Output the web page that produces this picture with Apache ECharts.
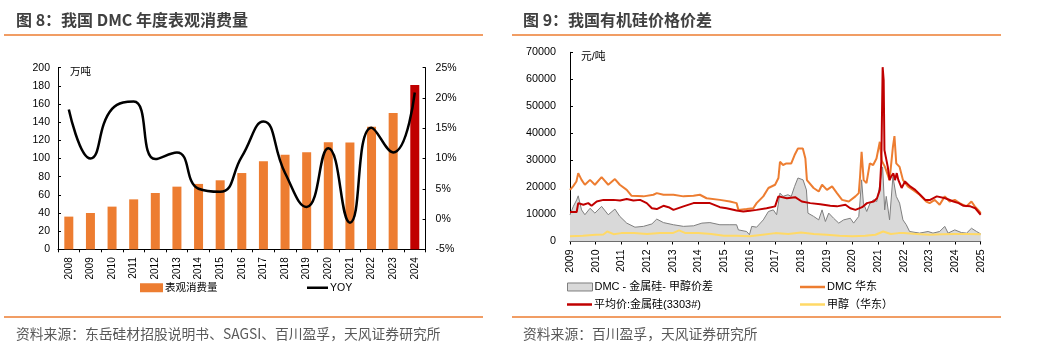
<!DOCTYPE html>
<html><head><meta charset="utf-8">
<script src="https://cdn.jsdelivr.net/npm/echarts@6/dist/echarts.min.js"></script>
<style>html,body{margin:0;padding:0;background:#fff}#c{width:1050px;height:355px}</style>
</head><body><div id="c"></div>
<script>
// ---------- Figure 8 data ----------
const years8 = ['2008','2009','2010','2011','2012','2013','2014','2015','2016','2017','2018','2019','2020','2021','2022','2023','2024'];
const consumption = [36, 40, 47, 55, 62, 69, 72, 76, 84, 97, 104, 107, 118, 117.5, 135, 150, 181];
const yoy = [18.1, 10.0, 18.2, 19.4, 9.9, 11.0, 5.0, 4.5, 10.3, 16.1, 7.6, 2.0, 11.7, -0.6, 15.1, 11.0, 20.9];
const leftTicks = {min: 0, max: 200, interval: 20};
const rightTicks = {min: -5, max: 25, interval: 5};

// ---------- Figure 9 data ([year, yuan/ton]) ----------
const spread = [[2009.00,9900],[2009.13,13000],[2009.26,15400],[2009.32,16900],[2009.45,11700],[2009.58,9900],[2009.78,12300],[2009.97,10500],[2010.23,13000],[2010.49,9900],[2010.75,12000],[2010.94,9300],[2011.21,6800],[2011.53,5300],[2011.86,5600],[2012.19,6500],[2012.38,8300],[2012.64,7000],[2013.03,6200],[2013.42,5600],[2013.81,5800],[2014.14,6800],[2014.45,7000],[2014.84,6200],[2015.23,6200],[2015.49,6200],[2015.56,4300],[2015.88,3700],[2015.99,2500],[2016.08,5600],[2016.27,5300],[2016.53,8000],[2016.73,11100],[2016.92,11700],[2017.05,9900],[2017.18,17900],[2017.30,16700],[2017.49,17300],[2017.62,16700],[2017.75,20400],[2017.88,23500],[2018.08,22800],[2018.21,19100],[2018.27,10500],[2018.49,9300],[2018.69,8000],[2018.82,11700],[2018.95,7400],[2019.08,10500],[2019.27,8600],[2019.47,6800],[2019.66,8000],[2019.92,8600],[2020.05,6800],[2020.25,9300],[2020.30,15000],[2020.36,22800],[2020.43,14200],[2020.56,11100],[2020.69,14200],[2020.82,15400],[2020.95,14800],[2021.08,21600],[2021.18,27600],[2021.26,11700],[2021.32,16700],[2021.45,8000],[2021.58,24000],[2021.71,16700],[2021.84,14200],[2021.97,8000],[2022.10,6200],[2022.23,3700],[2022.62,3100],[2022.95,3700],[2023.14,3100],[2023.40,3700],[2023.60,5600],[2023.73,3100],[2023.99,4300],[2024.25,3300],[2024.45,3100],[2024.64,4900],[2024.84,3700],[2025.00,2800]];
const dmcEast = [[2009.00,19100],[2009.12,20400],[2009.25,22200],[2009.32,25300],[2009.45,22800],[2009.58,21000],[2009.78,22800],[2009.97,21000],[2010.23,23800],[2010.49,21000],[2010.75,23100],[2010.94,21000],[2011.21,19100],[2011.40,16900],[2011.86,16700],[2012.25,17300],[2012.38,17900],[2012.64,17300],[2013.03,17300],[2013.42,16700],[2013.81,16900],[2014.06,17300],[2014.32,16000],[2014.84,15400],[2015.23,14800],[2015.49,14200],[2015.56,11700],[2015.88,12000],[2016.14,12300],[2016.27,14200],[2016.53,16700],[2016.73,19800],[2016.99,21000],[2017.12,23500],[2017.18,29500],[2017.30,28300],[2017.43,28900],[2017.62,28900],[2017.75,32000],[2017.88,34400],[2018.07,34400],[2018.17,30700],[2018.23,22700],[2018.30,22800],[2018.49,19800],[2018.69,18500],[2018.82,21000],[2019.01,19100],[2019.21,20400],[2019.40,17900],[2019.60,15400],[2019.86,14800],[2020.12,16700],[2020.25,17900],[2020.30,24000],[2020.36,33200],[2020.44,22700],[2020.55,21600],[2020.68,28900],[2020.81,28300],[2020.94,30700],[2021.07,36900],[2021.14,30000],[2021.27,27600],[2021.45,22700],[2021.58,35000],[2021.64,39000],[2021.71,28900],[2021.84,27600],[2021.97,22800],[2022.16,20400],[2022.36,19100],[2022.62,17300],[2022.88,14800],[2023.01,14200],[2023.21,15400],[2023.40,13600],[2023.60,16700],[2023.79,14800],[2023.99,15400],[2024.18,14200],[2024.44,13000],[2024.64,14800],[2024.77,13000],[2024.90,11700],[2025.00,10500]];
const silicon = [[2009.00,10900],[2009.26,10900],[2009.32,14200],[2009.52,13600],[2009.71,14200],[2009.84,13200],[2010.04,14800],[2010.30,15400],[2010.69,15400],[2010.95,15200],[2011.21,15700],[2011.47,15200],[2011.73,15400],[2011.99,14200],[2012.19,12300],[2012.38,12000],[2012.64,13200],[2012.84,12700],[2013.03,11700],[2013.42,13000],[2013.81,14200],[2014.14,14200],[2014.45,14200],[2014.84,12700],[2015.10,12300],[2015.49,11500],[2015.75,11100],[2016.01,11400],[2016.27,11700],[2016.66,12300],[2016.99,13000],[2017.12,16700],[2017.45,16000],[2017.77,16400],[2018.03,14800],[2018.36,14200],[2018.75,13800],[2019.14,13200],[2019.40,13000],[2019.73,13600],[2019.92,12300],[2020.12,11700],[2020.38,12700],[2020.57,14200],[2020.83,14800],[2020.96,16000],[2021.07,19100],[2021.13,30000],[2021.18,64500],[2021.22,59700],[2021.25,33800],[2021.32,33200],[2021.38,27600],[2021.45,22700],[2021.51,24000],[2021.60,25200],[2021.66,22700],[2021.73,25300],[2021.79,22800],[2021.92,19800],[2022.05,22200],[2022.25,20400],[2022.45,19100],[2022.64,17300],[2022.84,15400],[2023.03,15400],[2023.29,16700],[2023.62,16000],[2023.94,14800],[2024.14,14200],[2024.33,13200],[2024.60,13000],[2024.79,12300],[2025.00,9900]];
const methanol = [[2009.0,1900],[2009.5,2100],[2010.0,2500],[2010.3,2600],[2010.45,3700],[2010.7,2700],[2011.0,3100],[2011.5,3100],[2012.0,2800],[2012.5,3100],[2013.0,3100],[2013.25,4100],[2013.5,3100],[2014.0,3100],[2014.5,2800],[2015.0,2100],[2015.5,2100],[2016.0,1900],[2016.5,2500],[2017.0,3100],[2017.5,2800],[2018.0,3300],[2018.5,2800],[2019.0,2500],[2019.5,2100],[2020.0,1900],[2020.5,2100],[2020.9,2500],[2021.2,3700],[2021.5,2800],[2021.8,3100],[2022.0,3100],[2022.5,2800],[2023.0,2500],[2023.5,2700],[2024.0,2800],[2024.5,2800],[2025.0,2700]];
const yearRange9 = {min: 2009, max: 2025, interval: 1};
const priceTicks = {min: 0, max: 70000, interval: 10000};

const FONT = '"Liberation Sans", "Noto Sans CJK SC", sans-serif';
const ORANGE = '#ED7D31', RED = '#C00000';

const chart = echarts.init(document.getElementById('c'), null, {renderer: 'canvas'});
const lbl = (size, extra) => Object.assign({color: '#000', fontFamily: FONT, fontSize: size}, extra || {});
const axLine = {show: true, lineStyle: {color: '#000', width: 1}};
const legTxt = (size) => lbl(size, {padding: [0, 0, 0, -3]});

chart.setOption({
  animation: false,
  textStyle: {fontFamily: FONT},
  grid: [
    {left: 58, top: 67.7, width: 367.6, height: 181.6},
    {left: 570, top: 52.3, width: 410.7, height: 189.2}
  ],
  xAxis: [
    {type: 'category', gridIndex: 0, data: years8,
     axisLine: axLine, axisTick: {show: true, length: 3, lineStyle: {color: '#000'}},
     axisLabel: lbl(10, {rotate: 90, margin: 8, interval: 0}), splitLine: {show: false}},
    {type: 'value', gridIndex: 1, min: yearRange9.min, max: yearRange9.max, interval: yearRange9.interval,
     axisLine: axLine, axisTick: {show: true, length: 3, lineStyle: {color: '#000'}},
     axisLabel: lbl(10.5, {rotate: 90, margin: 8, formatter: v => String(v)}), splitLine: {show: false}}
  ],
  yAxis: [
    {type: 'value', gridIndex: 0, min: leftTicks.min, max: leftTicks.max, interval: leftTicks.interval,
     axisLine: axLine, axisTick: {show: true, inside: true, length: 3, lineStyle: {color: '#000'}},
     axisLabel: lbl(10.5, {margin: 8}), splitLine: {show: false}},
    {type: 'value', gridIndex: 0, position: 'right', min: rightTicks.min, max: rightTicks.max, interval: rightTicks.interval,
     axisLine: axLine, axisTick: {show: true, inside: true, length: 3, lineStyle: {color: '#000'}},
     axisLabel: lbl(10.5, {margin: 10, formatter: '{value}%'}), splitLine: {show: false}},
    {type: 'value', gridIndex: 1, min: priceTicks.min, max: priceTicks.max, interval: priceTicks.interval,
     axisLine: axLine, axisTick: {show: true, inside: true, length: 3, lineStyle: {color: '#000'}},
     axisLabel: lbl(10.8, {margin: 14, formatter: v => String(v)}), splitLine: {show: false}}
  ],
  legend: [
    {data: [{name: '表观消费量', icon: 'rect'}], left: 140, top: 282.5, padding: 0, itemWidth: 23, itemHeight: 9, textStyle: legTxt(10.5), selectedMode: false},
    {data: [{name: 'YOY', icon: 'rect'}], left: 307, top: 282.5, padding: 0, itemWidth: 21, itemHeight: 2.5, textStyle: legTxt(10.5), selectedMode: false},
    {data: [{name: 'DMC - 金属硅- 甲醇价差', icon: 'rect', itemStyle: {color: '#d9d9d9', borderColor: '#7f7f7f', borderWidth: 1}}], left: 567, top: 281.5, padding: 0, itemWidth: 25, itemHeight: 8, textStyle: legTxt(11), selectedMode: false},
    {data: [{name: 'DMC 华东', icon: 'rect'}], left: 800, top: 281.5, padding: 0, itemWidth: 25, itemHeight: 2.5, textStyle: legTxt(11), selectedMode: false},
    {data: [{name: '平均价:金属硅(3303#)', icon: 'rect'}], left: 567, top: 299, padding: 0, itemWidth: 25, itemHeight: 2.5, textStyle: legTxt(11), selectedMode: false},
    {data: [{name: '甲醇（华东）', icon: 'rect'}], left: 800, top: 299, padding: 0, itemWidth: 25, itemHeight: 2.5, textStyle: legTxt(11), selectedMode: false}
  ],
  series: [
    {name: '表观消费量', type: 'bar', xAxisIndex: 0, yAxisIndex: 0, barWidth: 9,
     itemStyle: {color: ORANGE},
     data: consumption.map((v, i) => i === consumption.length - 1 ? {value: v, itemStyle: {color: RED}} : v)},
    {name: 'YOY', type: 'line', xAxisIndex: 0, yAxisIndex: 1, smooth: 0.5, symbol: 'none',
     itemStyle: {color: '#000'}, lineStyle: {color: '#000', width: 2.5}, data: yoy},
    {name: 'DMC - 金属硅- 甲醇价差', type: 'line', xAxisIndex: 1, yAxisIndex: 2, symbol: 'none',
     itemStyle: {color: '#d9d9d9'}, lineStyle: {color: '#7f7f7f', width: 1},
     areaStyle: {color: '#d9d9d9', opacity: 1}, data: spread},
    {name: '甲醇（华东）', type: 'line', xAxisIndex: 1, yAxisIndex: 2, symbol: 'none',
     itemStyle: {color: '#FFD966'}, lineStyle: {color: '#FFD966', width: 2}, data: methanol},
    {name: 'DMC 华东', type: 'line', xAxisIndex: 1, yAxisIndex: 2, symbol: 'none',
     itemStyle: {color: ORANGE}, lineStyle: {color: ORANGE, width: 2}, data: dmcEast},
    {name: '平均价:金属硅(3303#)', type: 'line', xAxisIndex: 1, yAxisIndex: 2, symbol: 'none',
     itemStyle: {color: RED}, lineStyle: {color: RED, width: 2}, data: silicon}
  ],
  graphic: [
    {type: 'text', x: 16, y: 20, style: {text: '图 8：我国 DMC 年度表观消费量', font: 'bold 16px "Noto Sans CJK SC"', fill: '#404040', verticalAlign: 'middle'}},
    {type: 'text', x: 523, y: 20, style: {text: '图 9：我国有机硅价格价差', font: 'bold 16px "Noto Sans CJK SC"', fill: '#404040', verticalAlign: 'middle'}},
    {type: 'line', shape: {x1: 4, y1: 35, x2: 483, y2: 35}, style: {stroke: ORANGE, lineWidth: 1.5}},
    {type: 'line', shape: {x1: 512, y1: 35, x2: 1001, y2: 35}, style: {stroke: ORANGE, lineWidth: 1.5}},
    {type: 'line', shape: {x1: 4, y1: 317, x2: 483, y2: 317}, style: {stroke: ORANGE, lineWidth: 1.5}},
    {type: 'line', shape: {x1: 512, y1: 317, x2: 1001, y2: 317}, style: {stroke: ORANGE, lineWidth: 1.5}},
    {type: 'text', x: 16, y: 334, style: {text: '资料来源：东岳硅材招股说明书、SAGSI、百川盈孚，天风证券研究所', font: '13.8px "Noto Sans CJK SC"', fill: '#595959', verticalAlign: 'middle'}},
    {type: 'text', x: 523, y: 334, style: {text: '资料来源：百川盈孚，天风证券研究所', font: '13.8px "Noto Sans CJK SC"', fill: '#595959', verticalAlign: 'middle'}},
    {type: 'text', x: 70, y: 71, style: {text: '万吨', font: '10.5px "Noto Sans CJK SC"', fill: '#000', verticalAlign: 'middle'}},
    {type: 'text', x: 581, y: 57, style: {text: '元/吨', font: '10.8px "Liberation Sans", "Noto Sans CJK SC"', fill: '#000', verticalAlign: 'middle'}}
  ]
});
</script></body></html>
